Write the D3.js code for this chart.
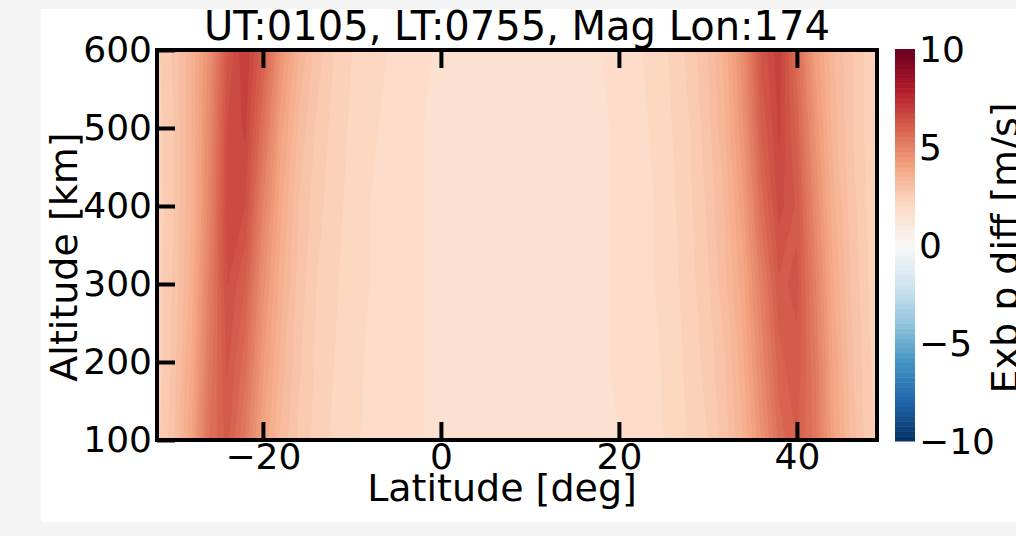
<!DOCTYPE html>
<html>
<head>
<meta charset="utf-8">
<script src="https://cdn.jsdelivr.net/npm/d3@7"></script>
<style>
    body { margin: 0; background: #f4f4f4; }
    text { font-family: "DejaVu Sans", sans-serif; fill: #000; }
</style>
</head>
<body>
<svg id="chart" width="1016" height="536"></svg>
<script>
// grid: latitude columns [deg], altitude rows [km]
const latitudes = [-32, -30, -28, -26, -24, -22, -20, -18, -16, -14, -12, -10, -8, -6, -4, -2,
    0, 2, 4, 6, 8, 10, 12, 14, 16, 18, 20, 22, 24, 26, 28, 30, 32, 34, 36, 38, 40, 42, 44, 46, 48, 50];
const altitudes = [100, 200, 300, 400, 500, 600];

// Exb p diff [m/s], one row per altitude, one value per latitude column
const diff100 = [2.35, 2.95, 4.0, 5.5, 6.1, 5.2, 4.0, 3.2, 2.7, 2.4, 2.2, 2.05, 1.95, 1.85, 1.8, 1.75,
    1.7, 1.65, 1.6, 1.55, 1.55, 1.55, 1.55, 1.6, 1.65, 1.7, 1.75, 1.85, 1.95, 2.05, 2.3, 2.5, 2.9, 3.5, 4.5, 5.6, 6.0, 5.4, 4.1, 3.2, 2.6, 2.3];
const diff200 = [2.3, 2.85, 3.8, 5.3, 6.3, 5.6, 4.3, 3.4, 2.8, 2.45, 2.25, 2.1, 1.95, 1.85, 1.8, 1.75,
    1.7, 1.65, 1.6, 1.55, 1.55, 1.55, 1.55, 1.6, 1.65, 1.7, 1.8, 1.85, 1.95, 2.1, 2.35, 2.6, 3.0, 3.7, 4.8, 5.9, 6.2, 5.3, 4.0, 3.1, 2.55, 2.25];
const diff300 = [2.3, 2.8, 3.6, 5.1, 6.5, 6.0, 4.6, 3.6, 2.9, 2.5, 2.3, 2.1, 2.0, 1.9, 1.8, 1.75,
    1.7, 1.65, 1.6, 1.55, 1.55, 1.55, 1.55, 1.6, 1.65, 1.7, 1.8, 1.9, 2.0, 2.15, 2.4, 2.7, 3.2, 3.9, 5.1, 6.2, 6.3, 5.1, 3.8, 3.0, 2.5, 2.2];
const diff400 = [2.3, 2.75, 3.5, 4.9, 6.6, 6.5, 5.0, 3.8, 3.0, 2.6, 2.35, 2.15, 2.0, 1.9, 1.8, 1.75,
    1.7, 1.65, 1.6, 1.55, 1.55, 1.55, 1.55, 1.6, 1.65, 1.7, 1.8, 1.9, 2.0, 2.2, 2.45, 2.8, 3.3, 4.2, 5.6, 6.6, 6.2, 4.8, 3.6, 2.9, 2.45, 2.2];
const diff500 = [2.35, 2.75, 3.5, 4.8, 6.5, 6.8, 5.5, 4.1, 3.2, 2.7, 2.4, 2.2, 2.05, 1.95, 1.85, 1.75,
    1.7, 1.65, 1.6, 1.55, 1.55, 1.55, 1.55, 1.6, 1.65, 1.7, 1.8, 1.9, 2.05, 2.25, 2.5, 2.9, 3.5, 4.5, 6.0, 6.8, 5.9, 4.5, 3.4, 2.8, 2.4, 2.2];
const diff600 = [2.4, 2.8, 3.5, 4.6, 6.2, 7.0, 6.0, 4.5, 3.5, 2.9, 2.5, 2.25, 2.1, 2.0, 1.9, 1.8,
    1.7, 1.65, 1.6, 1.55, 1.55, 1.55, 1.55, 1.6, 1.65, 1.75, 1.85, 1.95, 2.1, 2.3, 2.6, 3.0, 3.6, 4.7, 6.3, 6.9, 5.6, 4.2, 3.3, 2.8, 2.4, 2.2];

const latTicks = [-20, 0, 20, 40];
const altTicks = [100, 200, 300, 400, 500, 600];
const cbarTicks = [-10, -5, 0, 5, 10];
const title = "UT:0105, LT:0755, Mag Lon:174";

// RdBu_r stops (ColorBrewer 11), low to high
const rdbuStops = ["#053061", "#2166ac", "#4393c3", "#92c5de", "#d1e5f0", "#f7f7f7",
    "#fddbc7", "#f4a582", "#d6604d", "#b2182b", "#67001f"];

const rows = [diff100, diff200, diff300, diff400, diff500, diff600];
const grid = rows.flat();
const nx = latitudes.length, ny = altitudes.length;

// Set the dimensions of the plot box
const box = { left: 157, right: 877, top: 50, bottom: 440 };

const svg = d3.select("#chart");

// white page area
svg.append("rect")
    .attr("x", 41).attr("y", 9)
    .attr("width", 975).attr("height", 513)
    .attr("fill", "#fff");

const x = d3.scaleLinear().domain([-31.9, 49]).range([box.left, box.right]);
const y = d3.scaleLinear().domain([100, 600]).range([box.bottom, box.top]);

// linear segments between the stops, like matplotlib
const color = d3.scaleLinear()
    .domain(d3.range(rdbuStops.length).map(i => -10 + 20 * i / (rdbuStops.length - 1)))
    .range(rdbuStops)
    .interpolate(d3.interpolateRgb)
    .clamp(true);
const step = 0.25;
const levels = d3.range(-10, 10 + 1e-9, step);

// contour grid coords -> data coords (sample i sits at i + 0.5)
const gridLat = d3.scaleLinear().domain([0.5, nx - 0.5]).range([latitudes[0], latitudes[nx - 1]]);
const gridAlt = d3.scaleLinear().domain([0.5, ny - 0.5]).range([altitudes[0], altitudes[ny - 1]]);
const path = d3.geoPath(d3.geoTransform({
    point: function (px, py) { this.stream.point(x(gridLat(px)), y(gridAlt(py))); }
}));

svg.append("clipPath").attr("id", "plotclip")
    .append("rect")
    .attr("x", box.left).attr("y", box.top)
    .attr("width", box.right - box.left).attr("height", box.bottom - box.top);

const bands = d3.contours().size([nx, ny]).thresholds(levels)(grid);
svg.append("g")
    .attr("clip-path", "url(#plotclip)")
    .selectAll("path")
    .data(bands)
    .join("path")
    .attr("d", path)
    .attr("fill", d => color(d.value + step / 2))
    .attr("stroke", d => color(d.value + step / 2))
    .attr("stroke-width", 0.3);

// axes: ticks pointing inward
const fontTick = 36;
svg.append("g")
    .attr("transform", "translate(0," + box.bottom + ")")
    .call(d3.axisBottom(x).tickValues(latTicks).tickSize(-18).tickPadding(3));
svg.append("g")
    .attr("transform", "translate(0," + box.top + ")")
    .call(d3.axisTop(x).tickValues(latTicks).tickSize(-18).tickFormat(""));
svg.append("g")
    .attr("transform", "translate(" + box.left + ",0)")
    .call(d3.axisLeft(y).tickValues(altTicks).tickSize(-18).tickPadding(5));

svg.selectAll(".domain").remove();
svg.selectAll(".tick line").attr("stroke", "#000").attr("stroke-width", 4);
svg.selectAll(".tick text")
    .attr("font-family", "DejaVu Sans")
    .attr("font-size", fontTick)
    .attr("fill", "#000");

// frame
svg.append("rect")
    .attr("x", box.left).attr("y", box.top)
    .attr("width", box.right - box.left).attr("height", box.bottom - box.top)
    .attr("fill", "none")
    .attr("stroke", "#000")
    .attr("stroke-width", 4);

// title and axis labels
svg.append("text")
    .attr("x", 517).attr("y", 40)
    .attr("text-anchor", "middle")
    .style("font-size", "40px")
    .text(title);

svg.append("text")
    .attr("x", 502).attr("y", 501)
    .attr("text-anchor", "middle")
    .style("font-size", "38px")
    .text("Latitude [deg]");

svg.append("text")
    .attr("transform", "translate(77,257) rotate(-90)")
    .attr("text-anchor", "middle")
    .style("font-size", "38px")
    .text("Altitude [km]");

// colorbar
const cb = { x: 895, w: 20 };
const cy = d3.scaleLinear().domain([-10, 10]).range([441, 49]);
svg.append("g")
    .selectAll("rect")
    .data(levels.slice(0, -1))
    .join("rect")
    .attr("x", cb.x)
    .attr("y", d => cy(d + step))
    .attr("width", cb.w)
    .attr("height", d => cy(d) - cy(d + step) + 0.5)
    .attr("fill", d => color(d + step / 2));

svg.append("g")
    .selectAll("text")
    .data(cbarTicks)
    .join("text")
    .attr("x", cb.x + cb.w + 4)
    .attr("y", d => cy(d))
    .attr("dy", "0.36em")
    .style("font-size", fontTick + "px")
    .text(d => d3.format("d")(d));

svg.append("text")
    .attr("transform", "translate(1018,248) rotate(-90)")
    .attr("text-anchor", "middle")
    .style("font-size", "38px")
    .text("Exb p diff [m/s]");
</script>
</body>
</html>
